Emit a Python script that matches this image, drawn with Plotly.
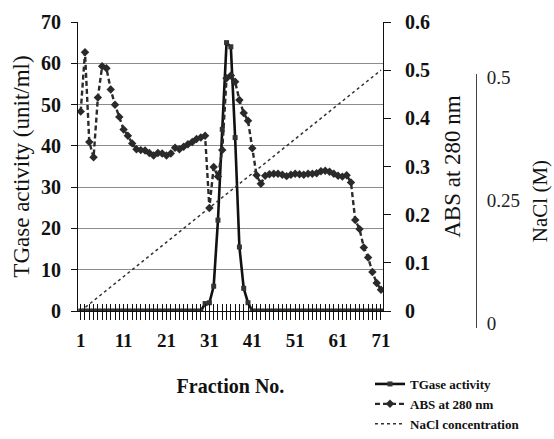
import plotly.graph_objects as go

# ---------------- data ----------------
fractions = list(range(1, 72))

tgase_activity = [
    0, 0, 0, 0, 0, 0, 0, 0, 0, 0,
    0, 0, 0, 0, 0, 0, 0, 0, 0, 0,
    0, 0, 0, 0, 0, 0, 0, 0, 0, 1.8,
    2.0, 6, 22, 44, 65, 64, 42, 15.5, 5.5, 2.0,
    0, 0, 0, 0, 0, 0, 0, 0, 0, 0,
    0, 0, 0, 0, 0, 0, 0, 0, 0, 0,
    0, 0, 0, 0, 0, 0, 0, 0, 0, 0,
    0,
]

abs_280 = [
    0.414, 0.537, 0.351, 0.319, 0.443, 0.508, 0.504, 0.460, 0.428, 0.403,
    0.377, 0.364, 0.348, 0.336, 0.334, 0.333, 0.328, 0.323, 0.328, 0.327,
    0.323, 0.327, 0.339, 0.336, 0.341, 0.346, 0.351, 0.357, 0.360, 0.364,
    0.214, 0.299, 0.279, 0.334, 0.483, 0.489, 0.476, 0.438, 0.411, 0.395,
    0.338, 0.282, 0.264, 0.281, 0.284, 0.285, 0.285, 0.283, 0.280, 0.283,
    0.285, 0.284, 0.283, 0.285, 0.285, 0.286, 0.290, 0.291, 0.289, 0.285,
    0.281, 0.279, 0.282, 0.267, 0.189, 0.170, 0.132, 0.111, 0.081, 0.058,
    0.044,
]

nacl_fraction = [1, 71]
nacl_conc = [0.0, 0.5]

x_label_values = [1, 11, 21, 31, 41, 51, 61, 71]
left_ticks = [0, 10, 20, 30, 40, 50, 60, 70]
right_ticks = [0, 0.1, 0.2, 0.3, 0.4, 0.5, 0.6]
nacl_ticks = [0, 0.25, 0.5]
nacl_tick_text = ["0", "0.25", "0.5"]

# ---------------- figure ----------------
SERIF = "Liberation Serif, Times New Roman, serif"
INK = "#111111"

W, H = 554, 439
ML, MR, MT, MB = 78, 0, 22, 109
PW, PH = W - ML - MR, H - MT - MB
X_RANGE = [0.37, 71.47]


def px_x(x):
    return (x - ML) / PW


def px_y(y):
    return (H - MB - y) / PH


fig = go.Figure()

fig.add_trace(go.Scatter(
    x=fractions, y=tgase_activity, name="TGase activity",
    mode="lines+markers",
    line=dict(color=INK, width=2.6),
    marker=dict(symbol="square", size=5, color="#333333"),
    xaxis="x", yaxis="y",
))
fig.add_trace(go.Scatter(
    x=fractions, y=abs_280, name="ABS at 280 nm",
    mode="lines+markers",
    line=dict(color="#2a2a2a", width=2.4, dash="5px,3px"),
    marker=dict(symbol="diamond", size=6.5, color="#2a2a2a"),
    xaxis="x", yaxis="y2",
))
fig.add_trace(go.Scatter(
    x=nacl_fraction, y=nacl_conc, name="NaCl concentration",
    mode="lines",
    line=dict(color="#333333", width=1.5, dash="3px,3px"),
    xaxis="x", yaxis="y4",
))
# invisible helpers so the extra scales (NaCl axis, upper tick half) are drawn
fig.add_trace(go.Scatter(
    x=[0], y=[0], mode="markers", marker=dict(opacity=0),
    showlegend=False, hoverinfo="skip",
    xaxis="x2", yaxis="y3",
))
fig.add_trace(go.Scatter(
    x=[fractions[0]], y=[0], mode="markers", marker=dict(opacity=0),
    showlegend=False, hoverinfo="skip",
    xaxis="x3", yaxis="y",
))

x_ticktext = [str(f) if f in x_label_values else "" for f in fractions]

fig.update_layout(
    template="none",
    width=W, height=H,
    margin=dict(l=ML, r=MR, t=MT, b=MB, autoexpand=False),
    paper_bgcolor="white", plot_bgcolor="white",
    font=dict(family=SERIF, color=INK),
    showlegend=True,
    legend=dict(
        x=px_x(370), y=px_y(369), xanchor="left", yanchor="top",
        font=dict(family=SERIF, size=13, color=INK, weight="bold"),
        bgcolor="rgba(0,0,0,0)", itemwidth=30, tracegroupgap=0,
    ),
    xaxis=dict(
        domain=[0, px_x(383)], range=X_RANGE, automargin=False,
        tickmode="array", tickvals=fractions, ticktext=x_ticktext,
        ticks="outside", ticklen=8, tickwidth=1, tickcolor=INK,
        showline=True, linecolor=INK, linewidth=1,
        showgrid=False, zeroline=False,
        tickfont=dict(family=SERIF, size=19, color=INK, weight="bold"),
        ticklabelstandoff=4,
        title=dict(text="Fraction No.", standoff=29,
                   font=dict(family=SERIF, size=20, color=INK, weight="bold")),
        anchor="y",
    ),
    xaxis3=dict(
        overlaying="x", range=X_RANGE, automargin=False, anchor="y",
        tickmode="array", tickvals=fractions, showticklabels=False,
        ticks="inside", ticklen=7, tickwidth=1, tickcolor=INK,
        showline=False, showgrid=False, zeroline=False, side="bottom",
    ),
    yaxis=dict(
        domain=[px_y(311), 1], range=[0, 70], automargin=False,
        tickmode="array", tickvals=left_ticks,
        ticks="outside", ticklen=6, tickcolor=INK,
        showline=True, linecolor=INK, linewidth=1,
        showgrid=True, gridcolor="#8c8c8c", gridwidth=1,
        zeroline=False,
        tickfont=dict(family=SERIF, size=20, color=INK, weight="bold"),
        ticklabelstandoff=6,
        title=dict(text="TGase activity (unit/ml)", standoff=4,
                   font=dict(family=SERIF, size=23, color=INK)),
        anchor="x",
    ),
    yaxis2=dict(
        overlaying="y", side="right", range=[0, 0.6], automargin=False,
        tickmode="array", tickvals=right_ticks,
        ticks="outside", ticklen=7, tickcolor=INK,
        showline=True, linecolor=INK, linewidth=1,
        showgrid=False, zeroline=False,
        tickfont=dict(family=SERIF, size=20, color=INK, weight="bold"),
        ticklabelstandoff=10,
        title=dict(text="ABS at 280 nm", standoff=14,
                   font=dict(family=SERIF, size=23, color=INK)),
        anchor="x",
    ),
    yaxis4=dict(
        overlaying="y", range=[0, 0.6], visible=False, automargin=False,
    ),
    xaxis2=dict(domain=[0.9, 0.95], visible=False, anchor="y3",
                automargin=False),
    yaxis3=dict(
        domain=[px_y(328), px_y(74)], range=[-0.0102, 0.5061],
        anchor="free", position=px_x(476), side="right", automargin=False,
        tickmode="array", tickvals=nacl_ticks, ticktext=nacl_tick_text,
        ticks="", showline=True, linecolor="#444444", linewidth=1,
        showgrid=False, zeroline=False,
        tickfont=dict(family=SERIF, size=19, color="#222222"),
        ticklabelstandoff=6,
        title=dict(text="NaCl (M)", standoff=13,
                   font=dict(family=SERIF, size=21, color=INK)),
    ),
)

fig.write_html(
    "out.html",
    config={"displayModeBar": False},
    post_script="document.body.style.margin='0';document.body.style.overflow='hidden';",
)
